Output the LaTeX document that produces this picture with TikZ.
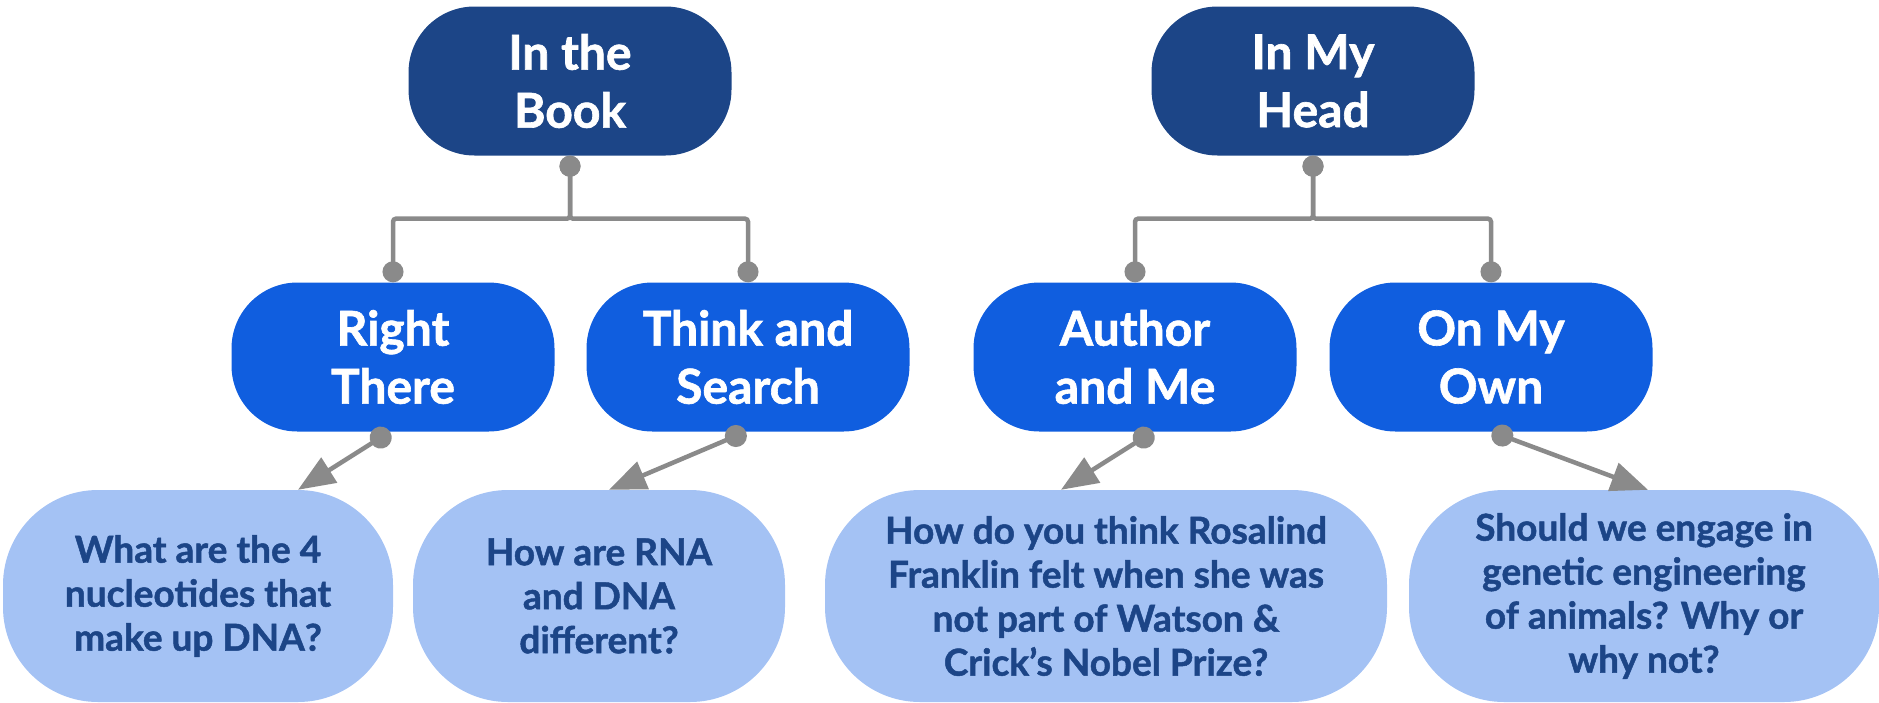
\documentclass[tikz,border=0pt]{standalone}
\usepackage{fontspec}
\setmainfont{Lato}[BoldFeatures={FakeBold=1.3}]
\usetikzlibrary{arrows.meta}
\usetikzlibrary{calc}
\definecolor{headblue}{HTML}{1C4587}
\definecolor{typeblue}{HTML}{105EDF}
\definecolor{qblue}{HTML}{A4C2F4}
\definecolor{linkgray}{HTML}{8A8A8A}

\begin{document}
\begin{tikzpicture}[x=1pt,y=-1pt,
headbox/.style={fill=headblue,text=white,rounded corners=66pt,minimum width=323pt,
minimum height=149pt,align=center,inner sep=0pt,font=\bfseries\fontsize{48}{58}\selectfont},
typebox/.style={headbox,fill=typeblue},
qbox/.style={fill=qblue,text=headblue,rounded corners=95pt,minimum height=212pt,
align=center,inner sep=0pt,font=\bfseries\fontsize{37}{44}\selectfont},
tree/.style={linkgray,line width=4.5pt,rounded corners=3pt,{Circle[length=21pt]}-{Circle[length=21pt]}},
pointer/.style={linkgray,line width=4.5pt,{Circle[length=22pt]}-{Triangle[length=37pt,width=29pt]}}]
\useasboundingbox (0,0) rectangle (1879,702);

%% top row
\node[headbox](book)at(570,81){In the\\Book};
\node[headbox](head)at(1313,81){In My\\Head};

%% question types
\node[typebox](there)at(393,357){Right\\There};
\node[typebox](search)at(748,357){Think and\\Search};
\node[typebox](author)at(1135,357){Author\\and Me};
\node[typebox](own)at(1491,357){On My\\Own};

%% sample questions
\node[qbox,minimum width=390pt](bases)at(198,596){What are the 4\\nucleotides that\\make up DNA?};
\node[qbox,minimum width=372pt](rnadna)at(599,596){How are RNA\\and DNA\\different?};
\node[qbox,minimum width=562pt](franklin)at(1106,596){How do you think Rosalind\\Franklin felt when she was\\not part of Watson \&\\Crick's Nobel Prize?};
\node[qbox,minimum width=470pt](engineer)at(1644,596){Should we engage in\\genetic engineering\\of animals?  Why or\\why not?};

%tree
\draw[tree](book.south)--++(0,63)-|(there.north);
\draw[tree](book.south)--++(0,63)-|(search.north);
\draw[tree](head.south)--++(0,63)-|(author.north);
\draw[tree](head.south)--++(0,63)-|(own.north);

%Arrows
\draw[pointer]($(there.south)+(-3,0)$)--($(bases.north)+(100,0)$);
\draw[pointer]($(search.south)+(-2,0)$)--($(rnadna.north)+(10,0)$);
\draw[pointer]($(author.south)+(18,0)$)--($(franklin.north)+(-45,0)$);
\draw[pointer]($(own.south)+(1,0)$)--($(engineer.north)+(4,0)$);
\end{tikzpicture}
\end{document}
